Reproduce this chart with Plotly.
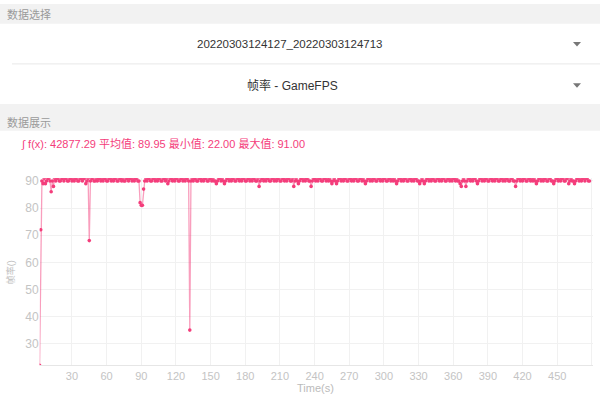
import plotly.graph_objects as go

W, H = 600, 401

# ---------------- data ----------------
fps = [
    22, 72, 90, 89, 91, 89, 90, 91, 91, 90, 86, 90, 88, 91, 90, 91, 91, 90, 90, 91,
    91, 90, 91, 91, 90, 90, 91, 91, 90, 91, 90, 91, 91, 90, 90, 91, 91, 90, 91, 91,
    89, 90, 91, 68, 90, 91, 91, 90, 90, 91, 90, 91, 91, 90, 91, 90, 91, 91, 90, 90,
    91, 91, 90, 91, 90, 91, 91, 90, 90, 91, 91, 90, 91, 90, 90, 91, 91, 90, 91, 91,
    90, 91, 90, 91, 91, 90, 90, 82, 81, 81, 87, 90, 91, 90, 91, 91, 90, 90, 91, 91,
    90, 91, 90, 91, 91, 90, 90, 91, 91, 90, 91, 89, 90, 91, 91, 90, 91, 90, 91, 91,
    90, 90, 91, 91, 90, 91, 90, 91, 91, 90, 35, 90, 91, 90, 91, 91, 90, 90, 91, 91,
    90, 91, 90, 91, 91, 90, 90, 91, 91, 90, 91, 90, 90, 89, 90, 91, 91, 90, 91, 90,
    89, 90, 91, 91, 90, 91, 90, 91, 91, 90, 90, 91, 91, 90, 91, 90, 91, 91, 90, 90,
    91, 91, 90, 91, 90, 91, 91, 90, 90, 91, 88, 90, 91, 91, 90, 91, 90, 91, 91, 90,
    90, 91, 91, 90, 91, 90, 91, 91, 90, 90, 91, 91, 90, 91, 90, 91, 91, 90, 90, 91,
    88, 90, 91, 90, 89, 90, 91, 91, 90, 91, 90, 91, 91, 90, 90, 88, 90, 91, 91, 90,
    91, 90, 91, 91, 90, 90, 91, 91, 90, 91, 90, 91, 90, 89, 90, 91, 90, 89, 90, 91,
    91, 90, 91, 90, 91, 91, 90, 90, 91, 91, 90, 91, 90, 91, 91, 90, 90, 91, 91, 90,
    91, 90, 89, 90, 91, 91, 90, 91, 90, 91, 91, 90, 90, 91, 91, 90, 91, 90, 91, 91,
    90, 90, 91, 91, 90, 91, 90, 91, 90, 89, 90, 91, 91, 90, 91, 90, 91, 91, 90, 90,
    91, 91, 90, 91, 90, 91, 91, 90, 90, 89, 90, 91, 90, 89, 90, 91, 91, 90, 91, 90,
    91, 91, 90, 90, 91, 91, 90, 91, 90, 91, 91, 90, 90, 91, 91, 90, 91, 90, 91, 91,
    90, 91, 90, 90, 89, 88, 90, 91, 90, 88, 90, 91, 91, 90, 91, 90, 91, 91, 90, 89,
    90, 91, 91, 90, 91, 90, 91, 91, 90, 90, 91, 91, 90, 91, 90, 91, 91, 90, 90, 91,
    91, 90, 91, 90, 91, 91, 90, 90, 91, 91, 90, 90, 88, 90, 91, 91, 90, 91, 90, 91,
    91, 90, 90, 91, 91, 90, 91, 90, 91, 90, 89, 90, 91, 91, 90, 91, 90, 91, 91, 90,
    90, 91, 91, 90, 90, 89, 90, 91, 91, 90, 91, 90, 91, 91, 90, 90, 91, 91, 89, 90,
    91, 90, 90, 89, 90, 91, 91, 90, 91, 90, 91, 91, 90, 91, 91, 90, 90,
]
start_time = 2
time_s = list(range(start_time, start_time + len(fps)))

x_ticks = [30, 60, 90, 120, 150, 180, 210, 240, 270, 300, 330, 360, 390, 420, 450, 480]
y_ticks = [30, 40, 50, 60, 70, 80, 90]

session_label = "20220303124127_20220303124713"
metric_label = "帧率 - GameFPS"
section1 = "数据选择"
section2 = "数据展示"
stats_text = "∫ f(x): 42877.29 平均值: 89.95 最小值: 22.00 最大值: 91.00"
y_title = "帧率()"
x_title = "Time(s)"

# ---------------- style ----------------
PINK = "#f43d7b"
FONT = "Liberation Sans, Noto Sans CJK SC, sans-serif"


def fx(p):
    return p / W


def fy(p):
    return 1 - p / H


fig = go.Figure()
fig.add_trace(go.Scatter(
    x=time_s, y=fps, mode="lines+markers",
    line=dict(color="rgba(244,61,123,0.5)", width=1.3),
    marker=dict(color=PINK, size=3.6),
    hoverinfo="skip",
))

shapes = [
    # grey header band
    dict(type="rect", xref="paper", yref="paper", x0=0, x1=1, y0=fy(20), y1=fy(0),
         fillcolor="#f2f2f2", line_width=0, layer="below"),
    # grey band between sections
    dict(type="rect", xref="paper", yref="paper", x0=0, x1=1, y0=fy(128), y1=fy(101),
         fillcolor="#f2f2f2", line_width=0, layer="below"),
    # divider
    dict(type="line", xref="paper", yref="paper", x0=fx(12), x1=1, y0=fy(60.5), y1=fy(60.5),
         line=dict(color="#e8e8e8", width=1)),
    # dropdown arrows
    dict(type="path", xref="paper", yref="paper",
         path=f"M {fx(573)} {fy(38.5)} L {fx(581)} {fy(38.5)} L {fx(577)} {fy(43)} Z",
         fillcolor="#777777", line_width=0),
    dict(type="path", xref="paper", yref="paper",
         path=f"M {fx(573)} {fy(80)} L {fx(581)} {fy(80)} L {fx(577)} {fy(84.5)} Z",
         fillcolor="#777777", line_width=0),
]

annotations = [
    dict(text=section1, x=fx(5), y=fy(11), xanchor="left", yanchor="middle",
         font=dict(size=11, color="#9a9a9a", family=FONT)),
    dict(text=session_label, x=fx(289), y=fy(40), xanchor="center", yanchor="middle",
         font=dict(size=11.5, color="#333333", family=FONT)),
    dict(text=metric_label, x=fx(292), y=fy(82), xanchor="center", yanchor="middle",
         font=dict(size=12, color="#333333", family=FONT)),
    dict(text=section2, x=fx(5), y=fy(120), xanchor="left", yanchor="middle",
         font=dict(size=11, color="#9a9a9a", family=FONT)),
    dict(text=stats_text, x=fx(19), y=fy(141), xanchor="left", yanchor="middle",
         font=dict(size=11, color=PINK, family=FONT)),
    dict(text=y_title, x=fx(10), y=fy(271), xanchor="center", yanchor="middle",
         textangle=-90, font=dict(size=9, color="#bbbbbb", family=FONT)),
    dict(text=x_title, x=fx(315), y=fy(388), xanchor="center", yanchor="middle",
         font=dict(size=11, color="#bbbbbb", family=FONT)),
]
for a in annotations:
    a.update(xref="paper", yref="paper", showarrow=False)

fig.update_layout(
    width=W, height=H, autosize=False,
    margin=dict(l=0, r=0, t=0, b=0),
    paper_bgcolor="white", plot_bgcolor="white",
    showlegend=False,
    shapes=shapes, annotations=annotations,
    font=dict(family=FONT),
    xaxis=dict(
        domain=[fx(39.6), fx(593)], range=[2, 481],
        tickmode="array", tickvals=x_ticks,
        showgrid=True, gridcolor="#f1f1f1", gridwidth=1,
        showline=True, linecolor="#e6e6e6", linewidth=1,
        zeroline=False, ticks="",
        tickfont=dict(size=11, color="#c4c4c4", family=FONT),
    ),
    yaxis=dict(
        domain=[1 - 365 / H, 1 - 176 / H], range=[22, 91],
        tickmode="array", tickvals=y_ticks,
        showgrid=True, gridcolor="#f1f1f1", gridwidth=1,
        showline=False, zeroline=False, ticks="",
        tickfont=dict(size=12, color="#c4c4c4", family=FONT),
    ),
)

fig.write_html(
    "out.html",
    config={"displayModeBar": False, "staticPlot": True},
    post_script="document.body.style.margin='0';document.body.style.overflow='hidden';",
)
